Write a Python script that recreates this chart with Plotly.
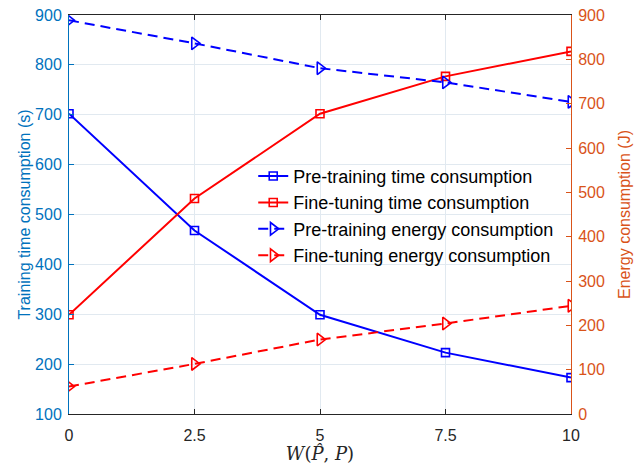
import plotly.graph_objects as go

x_vals = [0, 2.5, 5, 7.5, 10]
x_ticklabels = ["0", "2.5", "5", "7.5", "10"]

pre_time = [702, 468, 299, 223, 173]
fine_time = [299, 532, 702, 777, 827]
pre_energy = [888, 836, 780, 748, 704]
fine_energy = [62, 113, 168, 204, 244]

left_ticks = [100, 200, 300, 400, 500, 600, 700, 800, 900]
right_ticks = [0, 100, 200, 300, 400, 500, 600, 700, 800, 900]

BLUE_AX = "#0072BD"
ORANGE_AX = "#D95319"
FONT = "Liberation Sans, Arial, sans-serif"

fig = go.Figure()
fig.add_trace(go.Scatter(
    x=x_vals, y=pre_time, name="Pre-training time consumption",
    mode="lines+markers", line=dict(color="#0000FF", width=2),
    marker=dict(symbol="square-open", size=8, color="#0000FF", line=dict(width=1.6)),
    yaxis="y"))
fig.add_trace(go.Scatter(
    x=x_vals, y=fine_time, name="Fine-tuning time consumption",
    mode="lines+markers", line=dict(color="#FF0000", width=2),
    marker=dict(symbol="square-open", size=8, color="#FF0000", line=dict(width=1.6)),
    yaxis="y"))
fig.add_trace(go.Scatter(
    x=x_vals, y=pre_energy, name="Pre-training energy consumption",
    mode="lines+markers", line=dict(color="#0000FF", width=2, dash="10px,6px"),
    marker=dict(symbol="triangle-right-open", size=11, color="#0000FF", line=dict(width=1.6)),
    yaxis="y2"))
fig.add_trace(go.Scatter(
    x=x_vals, y=fine_energy, name="Fine-tuning energy consumption",
    mode="lines+markers", line=dict(color="#FF0000", width=2, dash="10px,6px"),
    marker=dict(symbol="triangle-right-open", size=11, color="#FF0000", line=dict(width=1.6)),
    yaxis="y2"))

fig.update_layout(
    width=642, height=464,
    margin=dict(l=69, r=71, t=15, b=50, autoexpand=False),
    paper_bgcolor="white", plot_bgcolor="white",
    font=dict(family=FONT, size=16, color="#262626"),
    showlegend=True,
    legend=dict(
        x=0.367, y=0.642, xanchor="left", yanchor="top",
        bgcolor="rgba(0,0,0,0)", borderwidth=0,
        font=dict(family=FONT, size=18, color="#000000"),
        tracegroupgap=0,
    ),
    xaxis=dict(
        range=[0, 10], tickvals=x_vals, ticktext=x_ticklabels,
        showgrid=True, gridcolor="#E1E9F0", gridwidth=1,
        showline=True, linecolor="#262626", linewidth=1, mirror="ticks",
        ticks="inside", ticklen=5, tickcolor="#262626",
        tickfont=dict(size=16, color="#262626"), ticklabelstandoff=7,
        zeroline=False, automargin=False,
        title=dict(text="<i>W</i>(<i>P\u0302</i>, <i>P</i>)",
                   font=dict(family="DejaVu Serif, Liberation Serif, serif", size=18, color="#262626"),
                   standoff=2),
    ),
    yaxis=dict(
        range=[100, 900], tickvals=left_ticks,
        showgrid=True, gridcolor="#E1E9F0", gridwidth=1,
        showline=True, linecolor=BLUE_AX, linewidth=1,
        ticks="inside", ticklen=5, tickcolor=BLUE_AX,
        tickfont=dict(size=16, color=BLUE_AX), ticklabelstandoff=3,
        zeroline=False, automargin=False,
        title=dict(text="Training time consumption (s)", font=dict(size=16, color=BLUE_AX), standoff=0),
    ),
    yaxis2=dict(
        range=[0, 900], tickvals=right_ticks,
        overlaying="y", side="right", anchor="x",
        showgrid=False,
        showline=True, linecolor=ORANGE_AX, linewidth=1,
        ticks="inside", ticklen=5, tickcolor=ORANGE_AX,
        tickfont=dict(size=16, color=ORANGE_AX), ticklabelstandoff=3,
        zeroline=False, automargin=False,
        title=dict(text="Energy consumption (J)", font=dict(size=16, color=ORANGE_AX), standoff=14),
    ),
)

fig.write_html(
    "out.html",
    config={"displayModeBar": False},
    post_script="document.body.style.margin='0px';document.body.style.overflow='hidden';",
)
